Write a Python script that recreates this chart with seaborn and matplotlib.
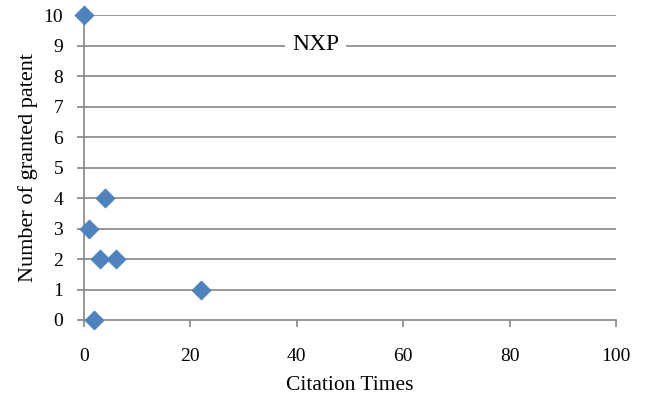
import pandas as pd
import matplotlib.pyplot as plt
import seaborn as sns

plt.switch_backend('Agg')

citation_times = [0, 4, 1, 3, 6, 22, 2]
granted_patents = [10, 4, 3, 2, 2, 1, 0]

x_ticks = [0, 20, 40, 60, 80, 100]
y_ticks = list(range(0, 11))

df = pd.DataFrame({'Citation Times': citation_times,
                   'Number of granted patent': granted_patents})

sns.set_theme(style="white")
plt.rcParams['font.family'] = ['Liberation Serif', 'DejaVu Serif']

grid_color = '#868686'

fig, ax = plt.subplots(figsize=(6.45, 3.98), dpi=100)
fig.subplots_adjust(left=0.13, right=0.955, bottom=0.196, top=0.962)

ax.set_axisbelow(True)
for y in y_ticks[1:]:
    ax.axhline(y, color=grid_color, linewidth=1.2, zorder=0)

sns.scatterplot(data=df, x='Citation Times', y='Number of granted patent',
                marker='D', s=95, color='#4F81BD', edgecolor='#4F81BD',
                linewidth=0.5, ax=ax, zorder=3, clip_on=False)

ax.set_xlim(0, 100)
ax.set_ylim(0, 10)
ax.set_xticks(x_ticks)
ax.set_yticks(y_ticks)
ax.tick_params(axis='both', which='major', direction='out', length=5,
               width=1.2, color=grid_color, labelsize=14, labelcolor='black')
ax.tick_params(axis='x', bottom=True, pad=15)
ax.tick_params(axis='y', left=True, pad=10)

for side in ['top', 'right']:
    ax.spines[side].set_visible(False)
for side in ['left', 'bottom']:
    ax.spines[side].set_color(grid_color)
    ax.spines[side].set_linewidth(1.2)

ax.set_xlabel('Citation Times', fontsize=15.5, color='black', labelpad=8)
ax.set_ylabel('Number of granted patent', fontsize=16, color='black', labelpad=4)

ax.text(43.6, 9.05, 'NXP', fontsize=17, ha='center', va='center', color='black',
        bbox=dict(facecolor='white', edgecolor='none', pad=5), zorder=2)

plt.savefig('out.png', dpi=100)
plt.close('all')
